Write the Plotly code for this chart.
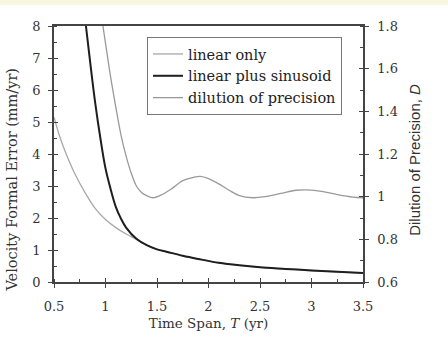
import plotly.graph_objects as go

# ---- data ----
t_lin = [0.5, 0.55, 0.6, 0.7, 0.8, 0.9, 1.0, 1.1, 1.2, 1.3, 1.4, 1.5, 1.6, 1.75, 1.9, 2.1, 2.3, 2.5, 2.75, 3.0, 3.25, 3.5]
v_lin = [5.15, 4.6, 4.15, 3.4, 2.8, 2.3, 1.95, 1.7, 1.5, 1.33, 1.15, 1.02, 0.94, 0.82, 0.72, 0.6, 0.52, 0.46, 0.41, 0.36, 0.32, 0.28]

t_sin = [0.81, 0.85, 0.9, 0.95, 1.0, 1.05, 1.1, 1.15, 1.2, 1.3, 1.4, 1.5, 1.6, 1.75, 1.9, 2.1, 2.3, 2.5, 2.75, 3.0, 3.25, 3.5]
v_sin = [8.0, 6.9, 5.6, 4.5, 3.55, 2.9, 2.35, 1.98, 1.7, 1.35, 1.15, 1.02, 0.94, 0.82, 0.72, 0.6, 0.52, 0.46, 0.41, 0.36, 0.32, 0.28]

t_dop = [0.975, 1.0, 1.05, 1.1, 1.15, 1.2, 1.25, 1.3, 1.35, 1.4, 1.46, 1.55, 1.65, 1.75, 1.85, 1.92, 2.0, 2.1, 2.2, 2.3, 2.43, 2.55, 2.7, 2.85, 2.96, 3.1, 3.25, 3.4, 3.5]
d_dop = [1.8, 1.72, 1.56, 1.42, 1.29, 1.19, 1.11, 1.05, 1.02, 1.005, 0.995, 1.01, 1.04, 1.075, 1.09, 1.095, 1.085, 1.06, 1.03, 1.005, 0.995, 1.0, 1.015, 1.03, 1.032, 1.025, 1.01, 0.998, 0.995]

x_range = [0.5, 3.5]
y_range = [0, 8]
y2_range = [0.6, 1.8]

y_title = "Velocity Formal Error (mm/yr)"
y2_title = "Dilution of Precision, <i>D</i>"
x_title = "Time Span, <i>T</i> (yr)"

SERIF = "DejaVu Serif"
AX = "#444"

fig = go.Figure()
fig.add_trace(go.Scatter(x=t_lin, y=v_lin, mode="lines", name="linear only",
                         line=dict(color="#a8a8a8", width=1.3, shape="spline")))
fig.add_trace(go.Scatter(x=t_sin, y=v_sin, mode="lines", name="linear plus sinusoid",
                         line=dict(color="#1e1e1e", width=2, shape="spline")))
fig.add_trace(go.Scatter(x=t_dop, y=d_dop, mode="lines", name="dilution of precision",
                         yaxis="y2", line=dict(color="#9a9a9a", width=1.3, shape="spline")))
# helper traces for inward tick parts
fig.add_trace(go.Scatter(x=[None], y=[None], xaxis="x2", yaxis="y3", showlegend=False))
fig.add_trace(go.Scatter(x=[None], y=[None], xaxis="x2", yaxis="y4", showlegend=False))

tickfont = dict(family=SERIF, size=13, color="#333")

fig.update_layout(
    width=448, height=354,
    margin=dict(l=54, r=85, t=26, b=72),
    paper_bgcolor="white", plot_bgcolor="white",
    showlegend=True,
    legend=dict(x=0.301, y=0.957, xanchor="left", yanchor="top",
                bordercolor="#777", borderwidth=1, bgcolor="white",
                font=dict(family=SERIF, size=14.5, color="#222")),
    xaxis=dict(range=x_range, dtick=0.5, tick0=0.5, ticks="outside", ticklen=4,
               tickcolor=AX, linecolor=AX, linewidth=1.5, showline=True, mirror=True,
               showgrid=False, zeroline=False, tickfont=tickfont, ticklabelstandoff=8,
               minor=dict(dtick=0.25, ticks="inside", ticklen=3, tickcolor=AX),
               title=dict(text=x_title, font=dict(family=SERIF, size=13.5, color="#333"), standoff=5)),
    xaxis2=dict(range=x_range, overlaying="x", anchor="y", side="bottom", dtick=0.5, tick0=0.5,
                ticks="inside", ticklen=4, tickcolor=AX, showticklabels=False, showgrid=False,
                zeroline=False, showline=False),
    yaxis=dict(range=y_range, dtick=1, ticks="outside", ticklen=4, tickcolor=AX,
               linecolor=AX, linewidth=1.5, showline=True, showgrid=False, zeroline=False,
               tickfont=tickfont, ticklabelstandoff=5,
               minor=dict(dtick=0.5, ticks="inside", ticklen=3, tickcolor=AX)),
    yaxis2=dict(range=y2_range, overlaying="y", side="right", anchor="x", dtick=0.2, ticks="outside",
                ticklen=4, tickcolor=AX, linecolor=AX, linewidth=1.5, showline=True,
                showgrid=False, zeroline=False, tickfont=tickfont, ticklabelstandoff=6,
                minor=dict(dtick=0.1, ticks="inside", ticklen=3, tickcolor=AX)),
    yaxis3=dict(range=y_range, overlaying="y", anchor="x", side="left", dtick=1, ticks="inside",
                ticklen=4, tickcolor=AX, showticklabels=False, showgrid=False, zeroline=False, showline=False),
    yaxis4=dict(range=y2_range, overlaying="y", anchor="x", side="right", dtick=0.2, ticks="inside",
                ticklen=4, tickcolor=AX, showticklabels=False, showgrid=False, zeroline=False, showline=False),
    annotations=[
        dict(text=y_title, xref="paper", yref="paper", x=-0.136, y=0.40, textangle=-90,
             xanchor="center", yanchor="middle", showarrow=False,
             font=dict(family=SERIF, size=14.5, color="#333")),
        dict(text=y2_title, xref="paper", yref="paper", x=1.168, y=0.477, textangle=-90,
             xanchor="center", yanchor="middle", showarrow=False,
             font=dict(family="Liberation Sans", size=15, color="#333")),
    ],
    shapes=[dict(type="rect", xref="paper", yref="paper", x0=-0.2, x1=1.3, y0=1.082, y1=1.11,
                 fillcolor="#f8f6df", line=dict(width=0), layer="below")],
)

fig.write_html("out.html")
